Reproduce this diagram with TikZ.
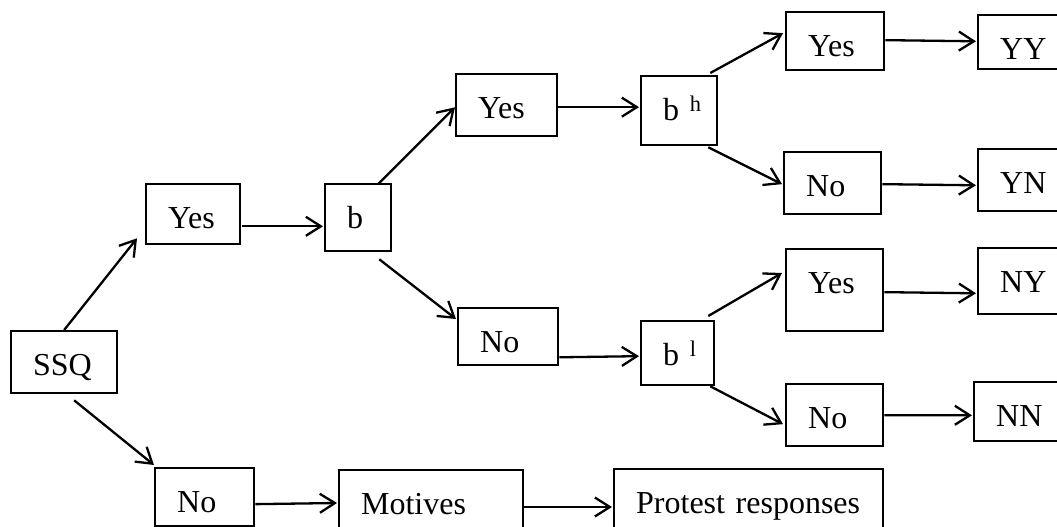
\documentclass[tikz,border=0pt]{standalone}
\usepackage{fontspec}
\setmainfont{Liberation Serif}
\usetikzlibrary{arrows.meta,calc}
\tikzset{
  bx/.style={draw=black, line width=2.3pt, anchor=north west, inner xsep=22pt, inner ysep=0pt,
    align=left, text height=44pt, font=\fontsize{32}{38}\selectfont},
  arr/.style={draw=black, line width=2.3pt, -{Straight Barb[length=15pt,width=19pt]}}
}
\begin{document}
\begin{tikzpicture}[x=1pt,y=-1pt]
\useasboundingbox (0,0) rectangle (1057,527);
\fill[white] (0,0) rectangle (1057,527);
\clip (0,0) rectangle (1057,527);
% boxes
\node[bx, text width=62pt, text depth=18pt] (ssq) at (10,330) {SSQ};
\node[bx, text width=50pt, text depth=16pt] (yesA) at (145,183) {Yes};
\node[bx, text width=22pt, text depth=23pt] (b) at (324,183) {b};
\node[bx, text width=57pt, text depth=18pt] (yesB) at (455,73) {Yes};
\node[bx, text width=56pt, text depth=13pt] (noB) at (457,307) {No};
\node[bx, text width=32pt, text depth=25pt] (bh) at (640,75) {\mbox{b \textsuperscript{h}}};
\node[bx, text width=29pt, text depth=20pt] (bl) at (640,320) {\mbox{b \textsuperscript{l}}};
\node[bx, text width=54pt, text depth=14pt] (yesC) at (785,11) {Yes};
\node[bx, text width=53pt, text depth=18pt] (noC) at (783,151) {No};
\node[bx, text width=53pt, text depth=38pt] (yesD) at (785,248) {Yes};
\node[bx, text width=53pt, text depth=18pt] (noD) at (785,383) {No};
\node[bx, text width=56pt, text depth=10pt] (yy) at (977,14) {YY};
\node[bx, text width=56pt, text depth=18pt] (yn) at (977,148) {YN};
\node[bx, text width=56pt, text depth=22pt] (ny) at (977,247) {NY};
\node[bx, text width=56pt, text depth=15pt] (nn) at (973,381) {NN};
\node[bx, text width=55pt, text depth=14pt] (noA) at (154,467) {No};
\node[bx, text width=140pt, text depth=26pt] (motives) at (338,469) {Motives};
\node[bx, text width=225pt, text depth=26pt] (protest) at (613,468) {Protest responses};
% connectors
\draw[arr] (ssq.north) -- ($(yesA.south west)+(-8,-7)$);
\draw[arr] ($(ssq.south)+(10,6)$) -- ($(noA.north west)+(0,-2)$);
\draw[arr] ($(yesA.south east)+(1,-19)$) -- ($(b.south west)+(-1,-26)$);
\draw[arr] ($(b.north east)+(-14,1)$) -- ($(yesB.south west)+(0,-30)$);
\draw[arr] ($(b.south east)+(-13,7)$) -- ($(noB.north west)+(-1,12)$);
\draw[arr] ($(yesB.east)+(0,2)$) -- ($(bh.west)+(-1,-3.5)$);
\draw[arr] ($(noB.south east)+(0,-9)$) -- ($(bl.west)+(-1,3)$);
\draw[arr] ($(bh.north east)+(-8,-2)$) -- ($(yesC.west)+(-2,-8)$);
\draw[arr] ($(bh.south east)+(-10,1)$) -- ($(noC.west)+(-1,1)$);
\draw[arr] ($(bl.north east)+(-7,-4)$) -- ($(yesD.north west)+(-3,25)$);
\draw[arr] ($(bl.south east)+(-5,0)$) -- ($(noD.west)+(-2,9)$);
\draw[arr] ($(yesC.east)+(0,-1)$) -- ($(yy.south west)+(-1,-29)$);
\draw[arr] ($(noC.east)+(0,1)$) -- ($(yn.south west)+(-1,-27)$);
\draw[arr] ($(yesD.east)+(0,2)$) -- ($(ny.south west)+(-1,-22)$);
\draw[arr] (noD.east) -- ($(nn.south west)+(-1,-27)$);
\draw[arr] ($(noA.east)+(0,7)$) -- ($(motives.north west)+(-1,34)$);
\draw[arr] ($(motives.north east)+(0,38)$) -- ($(protest.north west)+(-1,39)$);
\end{tikzpicture}
\end{document}
